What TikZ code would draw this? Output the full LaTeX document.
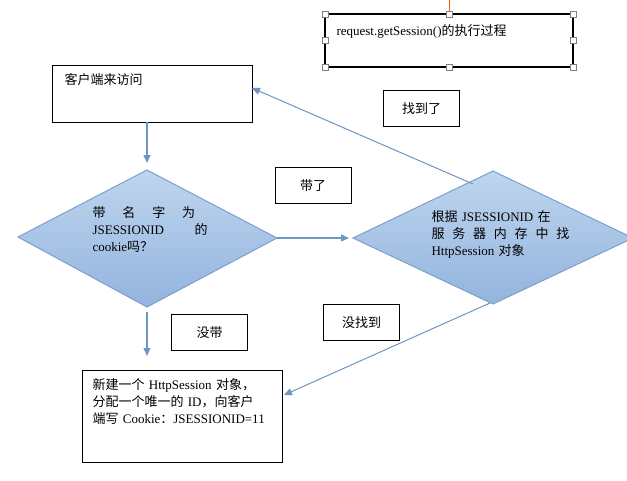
\documentclass[tikz,border=0pt]{standalone}
\usepackage{fontspec}
\setmainfont{Liberation Serif}
\newfontfamily\cjk{Noto Sans CJK SC}
\usetikzlibrary{arrows.meta}
\definecolor{dfill1}{HTML}{BED5EE}
\definecolor{dfill2}{HTML}{93B4DE}
\definecolor{dline}{HTML}{7C9FCB}
\definecolor{aline}{HTML}{6F95C3}
\begin{document}
\begin{tikzpicture}[x=1pt,y=-1pt,
  box/.style={draw=black,line width=0.8pt},
  lbl/.style={draw=black,line width=0.8pt,minimum width=76pt,minimum height=36pt,inner sep=0pt,font=\fontsize{13}{16}\selectfont\cjk},
  con/.style={draw=aline,line width=1.3pt,-{Triangle[length=8pt,width=7pt]}},
  dia/.style={draw=dline,line width=1pt,top color=dfill1,bottom color=dfill2},
  handle/.style={draw=gray,fill=white,line width=0.5pt,minimum size=6pt,inner sep=0pt}]
\useasboundingbox (0,0) rectangle (627,480);
\fontsize{13}{17}\selectfont
% title box
\draw[orange!70!red,line width=0.6pt] (449,0) -- (449,14);
\draw[box,line width=1.2pt] (325,14) rectangle (573,67);
\node[anchor=west] (title) at (332,31) {request.getSession()\cjk 的执行过程};
\foreach \x/\y in {325/14,449/14,573/14,325/40,573/40,325/67,449/67,573/67}
  \node[handle] at (\x,\y) {};
% box1
\draw[box] (52,65) rectangle (252,122);
\node[anchor=west,font=\fontsize{13}{16}\selectfont\cjk] (b1) at (60,80) {客户端来访问};
\coordinate (b1b) at (147,122);
\coordinate (b1r) at (252,88);
% diamond 1
\path[dia] (18,237) -- (147,170) -- (277,238) -- (147,307) -- cycle;
\node[align=left,text width=115pt,anchor=north west] (d1t) at (88,202)
 {{\cjk 带\hspace{1.3em}名\hspace{1.3em}字\hspace{1.3em}为}\\JSESSIONID\hfill{\cjk 的}\\cookie{\cjk 吗？}};
\coordinate (d1l) at (18,237); \coordinate (d1r) at (277,238);
\coordinate (d1t0) at (147,163); \coordinate (d1b) at (147,312);
% diamond 2
\path[dia] (353,238) -- (493,171) -- (633,238) -- (493,304) -- cycle;
\node[align=left,text width=140pt,anchor=north west] (d2t) at (427,206)
 {{\cjk 根据} JSESSIONID {\cjk 在}\\{\cjk 服\hspace{0.6em}务\hspace{0.6em}器\hspace{0.6em}内\hspace{0.6em}存\hspace{0.6em}中\hspace{0.6em}找}\\HttpSession {\cjk 对象}};
\coordinate (d2l) at (349,238);
\coordinate (d2t0) at (473,184);
\coordinate (d2b) at (490,303);
% box3
\draw[box] (82,370) rectangle (282,462);
\node[align=left,anchor=north west,text width=190pt] (b3) at (88,374)
 {{\cjk 新建一个} HttpSession {\cjk 对象，}\\{\cjk 分配一个唯一的} ID{\cjk ，向客户}\\{\cjk 端写} Cookie{\cjk ：}JSESSIONID=11};
\coordinate (b3t) at (147,356);
\coordinate (b3r) at (284,395);
% labels
\node[lbl] (l1) at (421.5,108.5) {找到了};
\node[lbl] (l2) at (313,185.5) {带了};
\node[lbl] (l3) at (209.5,332.5) {没带};
\node[lbl] (l4) at (361.5,322.5) {没找到};
% connectors
\draw[con] (b1b) -- (d1t0);
\draw[con] (d1r) -- (d2l);
\draw[con] (d1b) -- (b3t);
\draw[con,line width=1pt] (d2t0) -- (b1r);
\draw[con,line width=1pt] (d2b) -- (b3r);
\end{tikzpicture}
\end{document}
